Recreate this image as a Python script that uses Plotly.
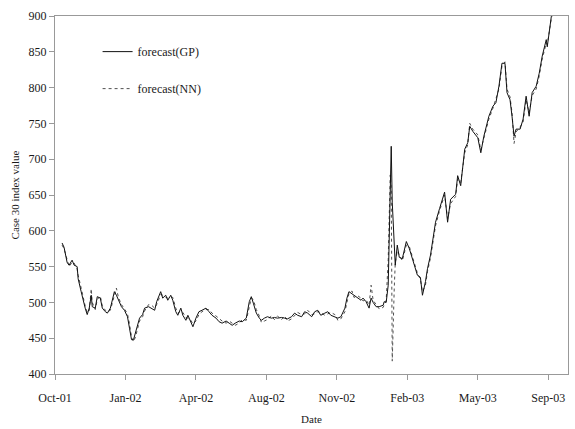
import plotly.graph_objects as go

# trading-day index (0 = first trading day of Oct-01)
days = [7, 9, 12, 14, 17, 19, 22, 23, 26, 28, 30, 32, 34, 36, 37, 40, 42, 45, 47, 50,
        52, 55, 57, 59, 61, 63, 66, 69, 72, 74, 76, 78, 80, 82, 84, 87, 89, 93, 96, 99,
        101, 105, 107, 110, 112, 115, 117, 120, 122, 125, 127, 130, 132, 135, 137, 140, 143, 146, 150, 153,
        156, 160, 163, 166, 170, 173, 176, 179, 183, 186, 190, 193, 195, 197, 200, 203, 205, 208, 211, 215,
        218, 221, 225, 228, 231, 235, 238, 241, 245, 248, 251, 255, 258, 261, 264, 268, 271, 274, 278, 281,
        284, 288, 290, 292, 295, 297, 301, 304, 306, 309, 312, 314, 316, 319, 322, 326, 327, 329, 331, 332,
        333, 334, 335, 337, 338, 340, 342, 345, 349, 352, 355, 357, 360, 363, 365, 368, 370, 373, 375, 378,
        382, 387, 390, 393, 398, 400, 403, 407, 410, 412, 415, 420, 423, 426, 431, 435, 438, 441, 444, 447,
        449, 452, 454, 456, 458, 462, 465, 468, 471, 474, 478, 481, 484, 488, 489, 491, 493, 496]

forecast_gp = [583, 577, 556, 552, 559, 552, 550, 533, 515, 501, 492, 483, 492, 510, 494, 492, 508, 506, 492, 487,
               485, 492, 503, 515, 510, 503, 494, 489, 480, 464, 448, 448, 457, 468, 478, 483, 492, 494, 492, 489,
               501, 515, 506, 510, 503, 510, 503, 487, 482, 492, 482, 475, 482, 471, 466, 478, 487, 489, 492, 487,
               482, 478, 473, 471, 474, 471, 468, 471, 474, 473, 478, 501, 508, 499, 485, 478, 475, 478, 480, 478,
               479, 478, 479, 478, 477, 480, 485, 482, 480, 487, 485, 480, 487, 489, 482, 485, 487, 482, 480, 478,
               480, 492, 506, 515, 512, 510, 506, 503, 506, 501, 492, 506, 500, 494, 494, 496, 501, 500, 524, 607,
               686, 718, 640, 593, 552, 580, 563, 561, 585, 575, 561, 552, 538, 535, 510, 529, 547, 566, 584, 612,
               631, 654, 612, 644, 651, 677, 663, 714, 723, 746, 739, 730, 709, 732, 760, 774, 779, 802, 834, 834,
               793, 783, 760, 732, 742, 742, 756, 788, 760, 793, 802, 820, 844, 867, 857, 881, 899, 915]

forecast_nn = [580, 575, 560, 550, 556, 555, 546, 538, 520, 505, 495, 486, 488, 519, 500, 490, 504, 509, 495, 489,
               487, 489, 499, 512, 520, 507, 497, 491, 484, 470, 452, 445, 452, 463, 474, 480, 488, 497, 496, 492,
               497, 511, 510, 507, 506, 507, 507, 492, 485, 488, 486, 479, 478, 475, 470, 474, 483, 487, 490, 490,
               485, 481, 477, 474, 471, 474, 471, 468, 471, 476, 475, 494, 506, 504, 490, 481, 472, 474, 476, 481,
               476, 481, 476, 481, 474, 477, 481, 486, 483, 484, 489, 483, 484, 487, 486, 482, 484, 486, 483, 475,
               477, 487, 500, 512, 516, 507, 509, 506, 502, 504, 496, 524, 503, 497, 491, 493, 497, 503, 560, 630,
               678, 660, 418, 520, 555, 572, 567, 558, 580, 578, 564, 555, 541, 532, 515, 524, 543, 562, 580, 607,
               628, 650, 617, 638, 648, 672, 667, 709, 720, 750, 742, 734, 713, 728, 756, 771, 783, 798, 830, 836,
               798, 787, 765, 722, 738, 745, 752, 783, 765, 789, 798, 816, 840, 862, 860, 877, 896, 912]

tick_days = [0, 70, 140, 210, 280, 350, 420, 490]
tick_labels = ["Oct-01", "Jan-02", "Apr-02", "Aug-02", "Nov-02", "Feb-03", "May-03", "Sep-03"]
y_ticks = [400, 450, 500, 550, 600, 650, 700, 750, 800, 850, 900]

FONT = "Liberation Serif"

fig = go.Figure()
fig.add_trace(go.Scatter(
    x=days, y=forecast_nn, mode="lines", name="forecast(NN)",
    line=dict(color="#505050", width=1, dash="dot"),
    legendgroup="nn", legendrank=2,
))
fig.add_trace(go.Scatter(
    x=days, y=forecast_gp, mode="lines", name="forecast(GP)",
    line=dict(color="#111111", width=1),
    legendgroup="gp", legendrank=1,
))

fig.update_layout(
    width=575, height=429,
    margin=dict(l=55, r=6, t=16, b=53),
    paper_bgcolor="white", plot_bgcolor="white",
    font=dict(family=FONT, size=12, color="#1a1a1a"),
    showlegend=True,
    legend=dict(
        x=0.083, y=0.941, xanchor="left", yanchor="top",
        bgcolor="rgba(0,0,0,0)", font=dict(family=FONT, size=12, color="#1a1a1a"),
        traceorder="grouped", tracegroupgap=18,
    ),
    xaxis=dict(
        range=[0, 509.6], tickmode="array", tickvals=tick_days, ticktext=tick_labels,
        showline=True, linecolor="#999999", linewidth=1, mirror=True,
        ticks="outside", ticklen=5, tickcolor="#999999", ticklabelstandoff=8,
        showgrid=False, zeroline=False,
        title=dict(text="Date", font=dict(family=FONT, size=11, color="#1a1a1a"), standoff=10),
    ),
    yaxis=dict(
        range=[400, 900], tickmode="array", tickvals=y_ticks,
        showline=True, linecolor="#999999", linewidth=1, mirror=True,
        ticks="outside", ticklen=5, tickcolor="#999999",
        showgrid=False, zeroline=False,
        title=dict(text="Case 30 index value", font=dict(family=FONT, size=11, color="#1a1a1a"), standoff=6),
    ),
)

fig.write_html("out.html")
